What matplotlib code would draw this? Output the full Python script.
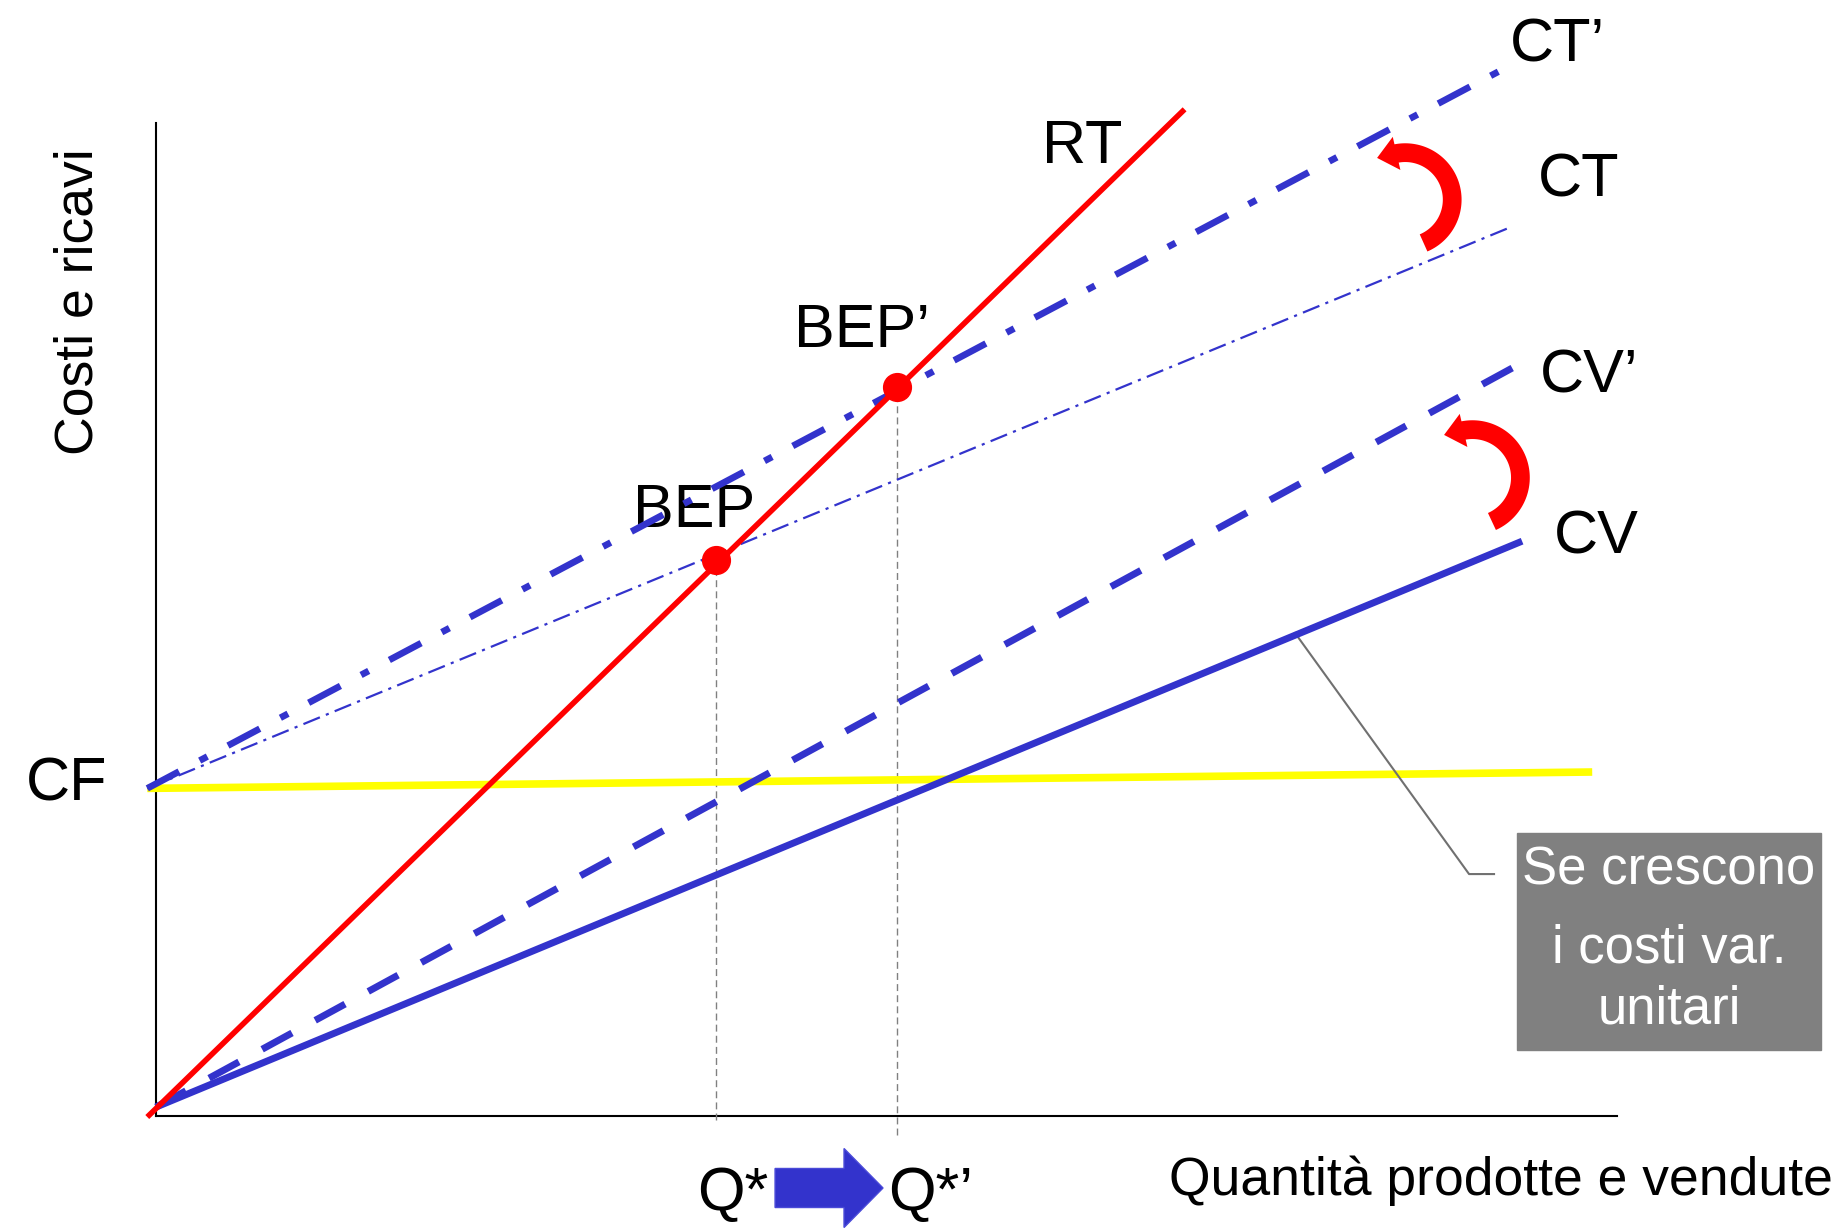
import numpy as np
import matplotlib.pyplot as plt
from matplotlib.patches import Polygon, Rectangle, FancyArrow

plt.rcParams['font.family'] = ['Liberation Sans', 'DejaVu Sans']

BLUE = '#3333CC'
RED = '#FF0000'
YELLOW = '#FFFF00'

# end points of each line (quantity, value)
rt_q = [-0.6, 70.4]
rt_v = [-0.1, 101.4]
cf_q = [-0.6, 98.3]
cf_v = [33.0, 34.65]
cv_q = [0.0, 93.5]
cv_v = [0.9, 57.9]
cv2_q = [0.0, 92.9]
cv2_v = [0.9, 75.4]
ct_q = [-0.6, 92.5]
ct_v = [33.0, 89.4]
ct2_q = [-0.6, 92.4]
ct2_v = [33.0, 105.6]

# break even points
bep_q = [38.3, 50.7]
bep_v = [56.0, 73.4]
bep_foot = [-0.4, -1.9]

xlim = (-10.68, 115.26)
ylim = (-11.38, 112.41)

fig = plt.figure(figsize=(18.4, 12.29), dpi=100)
ax = fig.add_axes([0, 0, 1, 1])
ax.set_xlim(*xlim)
ax.set_ylim(*ylim)
ax.axis('off')

# pixel size of one data unit (for the round arrows)
sx = 1840 / (xlim[1] - xlim[0])
sy = 1229 / (ylim[1] - ylim[0])

# assi
ax.plot([0, 0], [0, 100], color='black', lw=1.5, zorder=2)
ax.plot([0, 100], [0, 0], color='black', lw=1.5, zorder=2)

# linee tratteggiate verso Q* e Q*'
for q, v, f in zip(bep_q, bep_v, bep_foot):
    ax.plot([q, q], [f, v], color='#808080', lw=1.0,
            linestyle=(0, (5, 3)), zorder=2)

ax.plot(cf_q, cf_v, color=YELLOW, lw=5.5, solid_capstyle='butt', zorder=3)
ax.plot(ct_q, ct_v, color=BLUE, lw=1.6, linestyle=(0, (8, 2.9, 1.4, 2.9)),
        dash_capstyle='butt', zorder=4)
ax.plot(ct2_q, ct2_v, color=BLUE, lw=4.8, linestyle=(0, (5.4, 3.5, 1.3, 3.5)),
        dash_capstyle='butt', zorder=4)
ax.plot(cv2_q, cv2_v, color=BLUE, lw=5, linestyle=(0, (4.9, 3.8)),
        dash_capstyle='butt', zorder=4)
ax.plot(cv_q, cv_v, color=BLUE, lw=5, solid_capstyle='butt', zorder=4)
ax.plot(rt_q, rt_v, color=RED, lw=4, solid_capstyle='butt', zorder=5)
ax.plot(bep_q, bep_v, 'o', color=RED, markersize=20, zorder=6)


def curved_arrow(cx, cy, r, a0, a1, lw=13.5, hw=17, hl=18):
    t = np.radians(np.linspace(a0, a1, 80))
    ax.plot(cx + r * np.cos(t) / sx, cy + r * np.sin(t) / sy,
            color=RED, lw=lw, solid_capstyle='butt', zorder=7)
    a = np.radians(a1)
    bx, by = r * np.cos(a), r * np.sin(a)
    tx, ty = -np.sin(a), np.cos(a)
    nx, ny = np.cos(a), np.sin(a)
    pts = [(bx + nx * hw - tx * 2, by + ny * hw - ty * 2),
           (bx - nx * hw - tx * 2, by - ny * hw - ty * 2),
           (bx + tx * hl, by + ty * hl)]
    pts = [(cx + px / sx, cy + py / sy) for px, py in pts]
    ax.add_patch(Polygon(pts, closed=True, color=RED, lw=0, zorder=7))


curved_arrow(85.5, 92.3, 47, -67, 103)
curved_arrow(90.1, 64.3, 48, -66, 103)

# etichette
fs = 44
ax.text(95.9, 106.2, 'CT’', fontsize=fs, ha='center', va='baseline')
ax.text(97.4, 92.6, 'CT', fontsize=fs, ha='center', va='baseline')
ax.text(98.1, 72.9, 'CV’', fontsize=fs, ha='center', va='baseline')
ax.text(98.6, 56.7, 'CV', fontsize=fs, ha='center', va='baseline')
ax.text(63.4, 96.0, 'RT', fontsize=fs, ha='center', va='baseline')
ax.text(48.3, 77.5, 'BEP’', fontsize=fs, ha='center', va='baseline')
ax.text(36.8, 59.3, 'BEP', fontsize=fs, ha='center', va='baseline')
ax.text(-6.1, 31.8, 'CF', fontsize=fs, ha='center', va='baseline')
ax.text(39.5, -9.5, 'Q*', fontsize=fs, ha='center', va='baseline')
ax.text(53.0, -9.5, 'Q*’', fontsize=fs, ha='center', va='baseline')

ax.text(114.8, -8.0, 'Quantità prodotte e vendute', fontsize=38.5,
        ha='right', va='baseline')
ax.text(-5.3, 82.0, 'Costi e ricavi', fontsize=38.5, rotation=90,
        ha='center', va='center')

# freccia Q* -> Q*'
ax.add_patch(FancyArrow(42.37, -7.25, 7.39, 0, width=3.93, head_width=7.96,
                        head_length=2.67, length_includes_head=True,
                        fc=BLUE, ec='#4a4ad8', lw=1, zorder=5))

# riquadro con nota
ax.add_patch(Rectangle((93.16, 6.65), 20.8, 21.85, color='#808080', zorder=5))
ax.text(103.56, 23.27, 'Se crescono', fontsize=38, color='white',
        ha='center', va='baseline', zorder=6)
ax.text(103.56, 15.51, 'i costi var.', fontsize=38, color='white',
        ha='center', va='baseline', zorder=6)
ax.text(103.56, 9.27, 'unitari', fontsize=38, color='white',
        ha='center', va='baseline', zorder=6)
ax.plot([77.96, 89.87, 91.58], [48.65, 24.37, 24.37], color='#707070',
        lw=1.5, zorder=3)

fig.savefig('out.png', dpi=100)
